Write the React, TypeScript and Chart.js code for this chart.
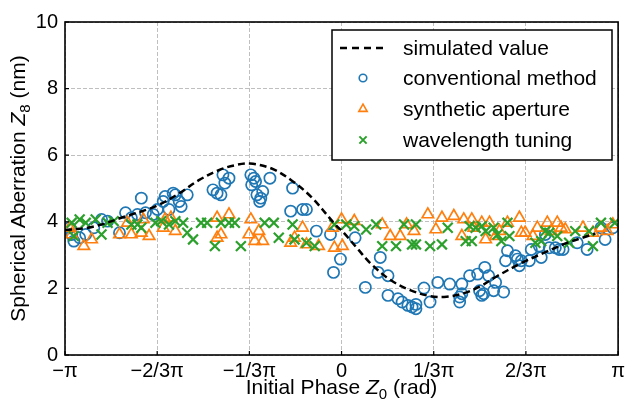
import React, { useEffect, useRef } from 'react';
import { Chart, registerables } from 'chart.js';

Chart.register(...registerables);

const W = 629;
const H = 408;
const FONT = '"Liberation Sans", Arial, Helvetica, sans-serif';

// x values are in units of pi
const X_TICKS = [-1, -2 / 3, -1 / 3, 0, 1 / 3, 2 / 3, 1];
const X_TICK_LABELS = ['\u2212\u03c0', '\u22122/3\u03c0', '\u22121/3\u03c0', '0', '1/3\u03c0', '2/3\u03c0', '\u03c0'];
const Y_TICKS = [0, 2, 4, 6, 8, 10];

const LEGEND_LABELS = ['simulated value', 'conventional method', 'synthetic aperture', 'wavelength tuning'];

const SIM_X = [-1.0, -0.899, -0.779, -0.671, -0.588, -0.516, -0.444, -0.385, -0.331, -0.253, -0.182, -0.11, -0.026, 0.01, 0.057, 0.105, 0.177, 0.248, 0.32, 0.38, 0.44, 0.499, 0.559, 0.643, 0.727, 0.81, 0.882, 0.918];
const SIM_Y = [3.75, 3.85, 4.17, 4.47, 4.85, 5.25, 5.55, 5.7, 5.75, 5.6, 5.25, 4.75, 3.95, 3.65, 3.2, 2.75, 2.25, 1.95, 1.77, 1.75, 1.85, 2.05, 2.35, 2.73, 3.05, 3.35, 3.55, 3.65];

const CONV_X = [-0.983, -0.976, -0.968, -0.947, -0.925, -0.896, -0.868, -0.846, -0.803, -0.781, -0.76, -0.738, -0.724, -0.709, -0.681, -0.666, -0.645, -0.638, -0.624, -0.609, -0.601, -0.587, -0.58, -0.558, -0.465, -0.45, -0.436, -0.429, -0.422, -0.407, -0.328, -0.325, -0.317, -0.311, -0.306, -0.296, -0.292, -0.285, -0.259, -0.177, -0.184, -0.141, -0.127, -0.091, -0.04, -0.029, -0.004, 0.049, 0.086, 0.14, 0.132, 0.168, 0.168, 0.204, 0.219, 0.24, 0.255, 0.269, 0.269, 0.298, 0.32, 0.348, 0.391, 0.427, 0.427, 0.435, 0.435, 0.463, 0.492, 0.499, 0.507, 0.514, 0.518, 0.532, 0.55, 0.557, 0.586, 0.593, 0.6, 0.629, 0.636, 0.643, 0.65, 0.679, 0.686, 0.715, 0.722, 0.737, 0.751, 0.773, 0.787, 0.801, 0.852, 0.888, 0.938, 0.953, 0.981];
const CONV_Y = [3.82, 3.62, 3.42, 3.52, 3.62, 3.82, 4.07, 4.02, 3.67, 4.27, 4.12, 4.22, 4.71, 4.27, 4.22, 4.37, 4.61, 4.76, 4.37, 4.86, 4.81, 4.61, 4.46, 4.81, 4.96, 4.86, 4.81, 5.41, 5.16, 5.31, 5.41, 5.11, 5.31, 5.21, 4.81, 4.61, 4.71, 4.91, 5.31, 5.01, 4.32, 4.37, 4.37, 3.72, 3.62, 2.48, 2.88, 3.52, 2.03, 2.93, 2.48, 2.38, 1.79, 1.69, 1.59, 1.49, 1.44, 1.39, 1.52, 2.01, 1.59, 2.18, 2.13, 1.59, 1.74, 1.84, 2.13, 2.38, 2.43, 1.93, 1.79, 1.84, 2.63, 2.38, 1.93, 2.18, 1.89, 2.83, 3.13, 2.98, 2.88, 2.68, 2.83, 2.83, 3.17, 3.27, 2.93, 3.62, 3.22, 3.22, 3.17, 3.17, 3.37, 3.17, 3.82, 3.47, 3.82];

const SYN_X = [-0.983, -0.976, -0.932, -0.904, -0.803, -0.774, -0.76, -0.724, -0.717, -0.696, -0.645, -0.638, -0.617, -0.601, -0.45, -0.45, -0.436, -0.407, -0.335, -0.328, -0.314, -0.299, -0.285, -0.184, -0.17, -0.141, -0.127, -0.083, -0.033, -0.026, 0.003, 0.0, 0.046, 0.147, 0.176, 0.212, 0.235, 0.262, 0.312, 0.341, 0.363, 0.406, 0.442, 0.435, 0.471, 0.478, 0.507, 0.521, 0.535, 0.557, 0.571, 0.6, 0.643, 0.65, 0.664, 0.692, 0.708, 0.744, 0.758, 0.78, 0.794, 0.809, 0.873, 0.909, 0.938, 0.96, 0.981];
const SYN_Y = [3.82, 3.62, 3.27, 3.47, 3.62, 3.97, 3.62, 3.67, 4.07, 3.57, 3.82, 4.07, 4.12, 3.72, 3.52, 4.12, 3.62, 4.22, 3.62, 4.07, 3.42, 3.72, 3.42, 3.37, 3.52, 3.82, 3.32, 3.27, 3.82, 3.22, 3.27, 4.07, 4.02, 3.92, 3.57, 3.57, 3.92, 3.72, 4.22, 3.77, 4.12, 4.17, 4.07, 3.57, 4.07, 3.82, 3.97, 3.47, 3.97, 3.57, 3.72, 3.97, 4.12, 3.67, 3.67, 3.57, 3.82, 3.97, 3.72, 3.97, 3.82, 3.77, 3.82, 3.67, 3.82, 3.72, 3.92];

const WAV_X = [-0.976, -0.968, -0.947, -0.925, -0.889, -0.868, -0.846, -0.824, -0.76, -0.738, -0.724, -0.673, -0.652, -0.624, -0.601, -0.573, -0.558, -0.537, -0.508, -0.486, -0.458, -0.436, -0.407, -0.386, -0.364, -0.278, -0.245, -0.227, -0.177, -0.17, -0.127, -0.097, -0.026, 0.017, 0.046, 0.089, 0.125, 0.147, 0.197, 0.226, 0.255, 0.269, 0.269, 0.32, 0.363, 0.384, 0.449, 0.471, 0.463, 0.485, 0.507, 0.521, 0.55, 0.564, 0.578, 0.6, 0.607, 0.701, 0.722, 0.737, 0.751, 0.78, 0.823, 0.845, 0.895, 0.909, 0.938, 0.988];
const WAV_Y = [3.97, 3.57, 4.07, 3.97, 4.07, 3.62, 3.97, 4.02, 3.92, 3.92, 3.82, 3.97, 4.02, 3.92, 4.02, 3.97, 3.67, 3.47, 3.97, 3.97, 3.27, 3.97, 3.97, 3.97, 3.27, 3.97, 3.97, 3.52, 3.92, 3.47, 3.37, 3.27, 3.92, 3.92, 3.87, 3.77, 3.92, 3.27, 3.27, 3.92, 3.32, 3.32, 3.92, 3.27, 3.32, 3.82, 3.42, 3.42, 3.87, 3.82, 3.87, 3.72, 3.82, 3.62, 3.42, 3.97, 3.57, 3.37, 3.42, 3.72, 3.67, 3.57, 3.37, 3.72, 3.72, 3.27, 3.97, 3.97];

const BLUE = '#1f77b4';
const ORANGE = '#ff7f0e';
const GREEN = '#2ca02c';

const toPts = (xs: number[], ys: number[]) => xs.map((x, i) => ({ x, y: ys[i] }));

type Part = { t: string; italic?: boolean; sub?: boolean };

function drawRich(ctx: CanvasRenderingContext2D, parts: Part[], cx: number, baseY: number, size: number) {
  const fontFor = (p: Part) =>
    `${p.italic ? 'italic ' : ''}${p.sub ? Math.round(size * 0.7) : size}px ${FONT}`;
  let total = 0;
  const widths = parts.map((p) => {
    ctx.font = fontFor(p);
    const w = ctx.measureText(p.t).width;
    total += w;
    return w;
  });
  let x = cx - total / 2;
  ctx.textAlign = 'left';
  ctx.textBaseline = 'alphabetic';
  ctx.fillStyle = '#000';
  parts.forEach((p, i) => {
    ctx.font = fontFor(p);
    ctx.fillText(p.t, x, baseY + (p.sub ? size * 0.24 : 0));
    x += widths[i];
  });
}

const framePlugin = {
  id: 'framePlugin',
  afterDraw(chart: any) {
    const { ctx, chartArea } = chart;
    const { left, right, top, bottom } = chartArea;
    const xs = chart.scales.x;
    const ys = chart.scales.y;
    ctx.save();
    // inward ticks
    ctx.strokeStyle = '#000';
    ctx.lineWidth = 1.2;
    ctx.beginPath();
    X_TICKS.forEach((v) => {
      const px = xs.getPixelForValue(v);
      ctx.moveTo(px, bottom);
      ctx.lineTo(px, bottom - 4);
    });
    Y_TICKS.forEach((v) => {
      const py = ys.getPixelForValue(v);
      ctx.moveTo(left, py);
      ctx.lineTo(left + 4, py);
    });
    ctx.stroke();
    // frame
    ctx.lineWidth = 1.6;
    ctx.strokeRect(left, top, right - left, bottom - top);

    // legend
    const lx = 332;
    const ly = 30;
    const lw = 280;
    const lh = 130;
    ctx.fillStyle = '#fff';
    ctx.fillRect(lx, ly, lw, lh);
    ctx.lineWidth = 1.5;
    ctx.strokeStyle = '#000';
    ctx.strokeRect(lx, ly, lw, lh);
    const rows = [48, 78, 109, 140];
    const mx = 363;
    // dashed line sample
    ctx.save();
    ctx.setLineDash([7, 5]);
    ctx.lineWidth = 2.5;
    ctx.beginPath();
    ctx.moveTo(340, rows[0]);
    ctx.lineTo(386, rows[0]);
    ctx.stroke();
    ctx.restore();
    // circle
    ctx.strokeStyle = BLUE;
    ctx.lineWidth = 1.6;
    ctx.beginPath();
    ctx.arc(mx, rows[1], 3.8, 0, Math.PI * 2);
    ctx.stroke();
    // triangle
    ctx.strokeStyle = ORANGE;
    const tr = 4.8;
    ctx.beginPath();
    ctx.moveTo(mx, rows[2] - tr);
    ctx.lineTo(mx + tr * 0.866, rows[2] + tr * 0.5);
    ctx.lineTo(mx - tr * 0.866, rows[2] + tr * 0.5);
    ctx.closePath();
    ctx.stroke();
    // x
    ctx.strokeStyle = GREEN;
    ctx.lineWidth = 2;
    const cr = 3.6;
    ctx.beginPath();
    ctx.moveTo(mx - cr, rows[3] - cr);
    ctx.lineTo(mx + cr, rows[3] + cr);
    ctx.moveTo(mx + cr, rows[3] - cr);
    ctx.lineTo(mx - cr, rows[3] + cr);
    ctx.stroke();
    ctx.fillStyle = '#000';
    ctx.font = `21px ${FONT}`;
    ctx.textAlign = 'left';
    ctx.textBaseline = 'middle';
    LEGEND_LABELS.forEach((t, i) => ctx.fillText(t, 403, rows[i] + 1));

    // axis titles
    drawRich(
      ctx,
      [{ t: 'Initial Phase ' }, { t: 'Z', italic: true }, { t: '0', sub: true }, { t: ' (rad)' }],
      (left + right) / 2,
      394,
      21
    );
    ctx.save();
    ctx.translate(25, (top + bottom) / 2);
    ctx.rotate(-Math.PI / 2);
    drawRich(
      ctx,
      [{ t: 'Spherical Aberration ' }, { t: 'Z', italic: true }, { t: '8', sub: true }, { t: ' (nm)' }],
      0,
      0,
      21
    );
    ctx.restore();
    ctx.restore();
  },
};

export default function App() {
  const ref = useRef<HTMLCanvasElement>(null);
  useEffect(() => {
    document.body.style.margin = '0';
    const canvas = ref.current;
    if (!canvas) return;
    const gridOpts = { color: '#b8b8b8', lineWidth: 0.9, drawTicks: false };
    const chart = new Chart(canvas, {
      type: 'scatter',
      data: {
        datasets: [
          {
            label: LEGEND_LABELS[0],
            data: toPts(SIM_X, SIM_Y),
            showLine: true,
            borderColor: '#000',
            backgroundColor: '#000',
            borderWidth: 2.5,
            borderDash: [7, 4],
            pointRadius: 0,
            tension: 0.35,
            order: 0,
          },
          {
            label: LEGEND_LABELS[3],
            data: toPts(WAV_X, WAV_Y),
            pointStyle: 'crossRot',
            pointRadius: 7,
            borderColor: GREEN,
            backgroundColor: 'rgba(0,0,0,0)',
            borderWidth: 2.2,
            order: 1,
          },
          {
            label: LEGEND_LABELS[2],
            data: toPts(SYN_X, SYN_Y),
            pointStyle: 'triangle',
            pointRadius: 6.6,
            borderColor: ORANGE,
            backgroundColor: 'rgba(0,0,0,0)',
            borderWidth: 1.7,
            order: 2,
          },
          {
            label: LEGEND_LABELS[1],
            data: toPts(CONV_X, CONV_Y),
            pointStyle: 'circle',
            pointRadius: 5.6,
            borderColor: BLUE,
            backgroundColor: 'rgba(0,0,0,0)',
            borderWidth: 1.7,
            order: 3,
          },
        ] as any,
      },
      options: {
        animation: false,
        responsive: false,
        devicePixelRatio: 1,
        layout: { padding: { left: 0, top: 22, right: 8, bottom: 0 } },
        plugins: { legend: { display: false }, tooltip: { enabled: false } },
        scales: {
          x: {
            type: 'linear',
            min: -1,
            max: 1,
            afterBuildTicks: (s: any) => {
              s.ticks = X_TICKS.map((v) => ({ value: v }));
            },
            afterFit: (s: any) => {
              s.height = 53;
            },
            ticks: {
              callback: (_v: any, i: number) => X_TICK_LABELS[i],
              font: { family: FONT, size: 20 },
              color: '#000',
              padding: 4,
              maxRotation: 0,
              autoSkip: false,
            },
            grid: gridOpts,
            border: { display: false, dash: [4, 2] },
          },
          y: {
            type: 'linear',
            min: 0,
            max: 10,
            afterBuildTicks: (s: any) => {
              s.ticks = Y_TICKS.map((v) => ({ value: v }));
            },
            afterFit: (s: any) => {
              s.width = 65;
            },
            ticks: {
              font: { family: FONT, size: 20 },
              color: '#000',
              padding: 7,
            },
            grid: gridOpts,
            border: { display: false, dash: [4, 2] },
          },
        },
      } as any,
      plugins: [framePlugin],
    });
    return () => chart.destroy();
  }, []);
  return (
    <div style={{ width: W, height: H }}>
      <canvas ref={ref} width={W} height={H} style={{ display: 'block', width: W, height: H }} />
    </div>
  );
}
